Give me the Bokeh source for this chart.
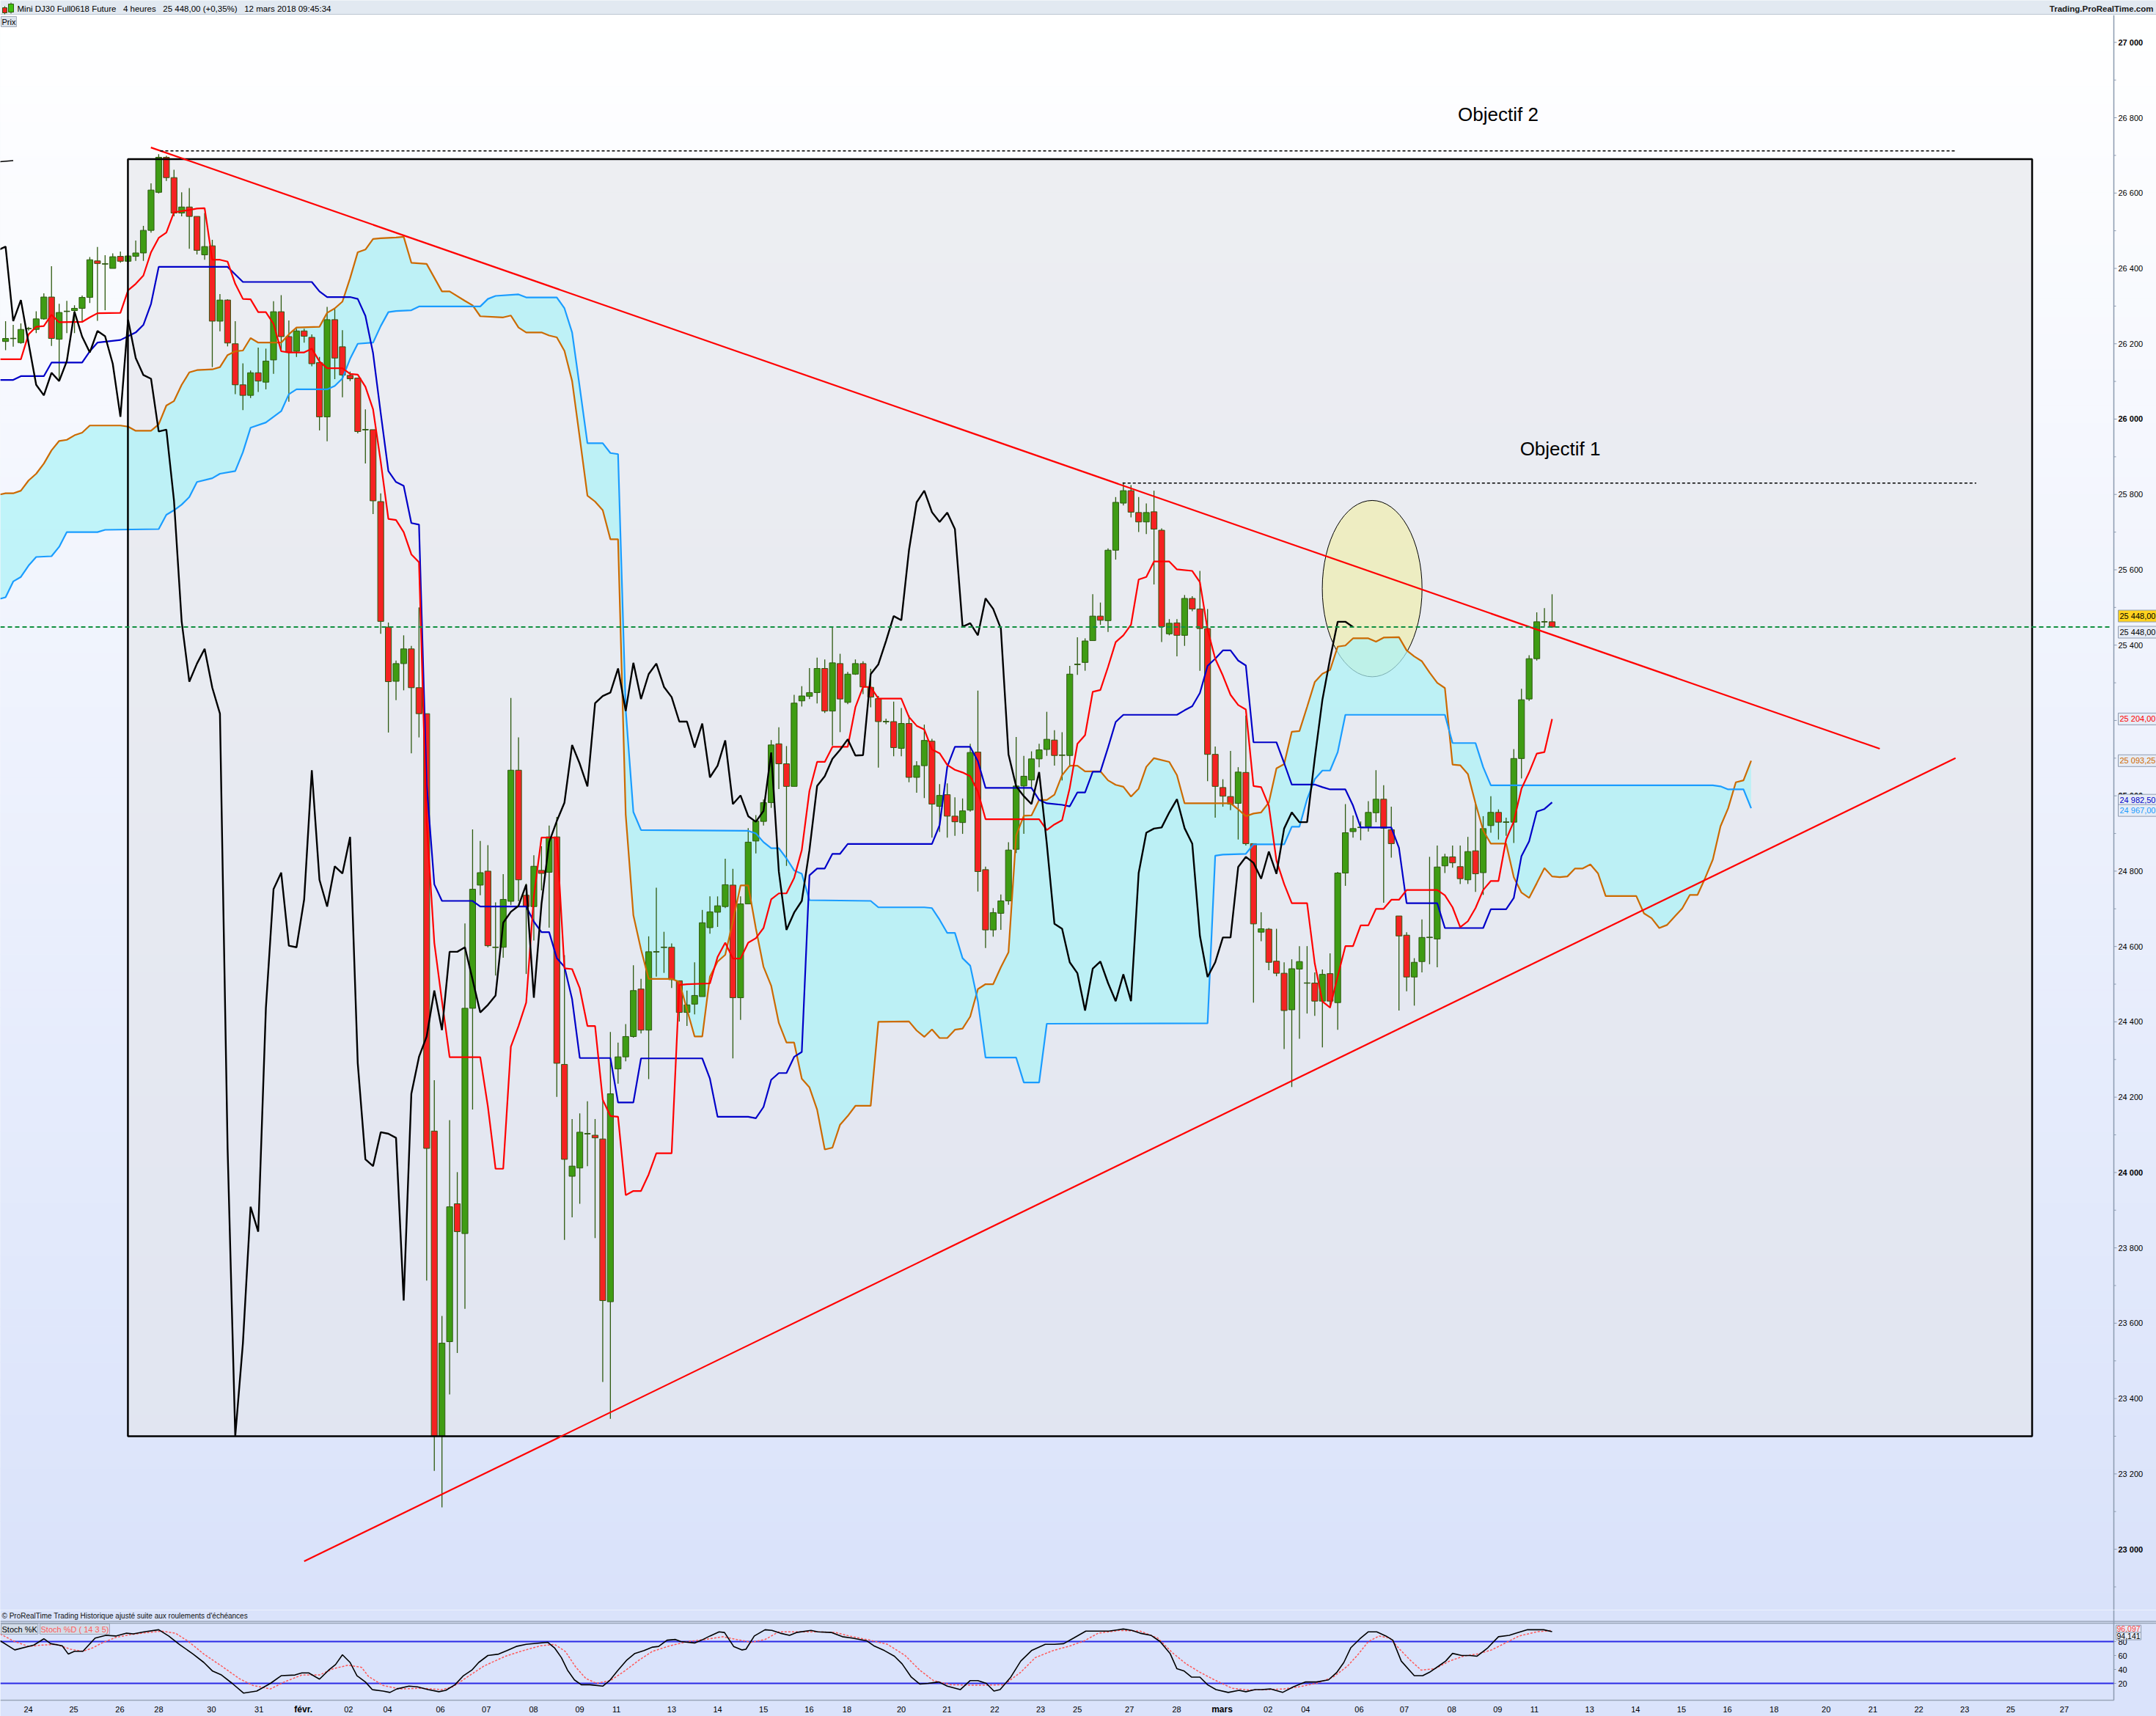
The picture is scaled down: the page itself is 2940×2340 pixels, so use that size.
import numpy as np
from bokeh.plotting import figure
from bokeh.models import Range1d, Label, ColumnDataSource
from bokeh.layouts import column
from bokeh.embed import file_html
from bokeh.resources import INLINE
from bokeh.core.properties import value

# ---------------------------------------------------------------- data
OPEN = [26206, 26214, 26203, 26240, 26238, 26266, 26324, 26212, 26286, 26288,
        26294, 26323, 26420, 26412, 26400, 26432, 26419, 26432, 26441, 26501,
        26602, 26695, 26641, 26547, 26563, 26538, 26436, 26460, 26260, 26316,
        26200, 26091, 26063, 26123, 26098, 26157, 26285, 26219, 26180, 26234,
        26217, 26150, 26006, 26264, 26192, 26116, 26109, 25972, 25972, 25781,
        25448, 25304, 25351, 25390, 25287, 25218, 24110, 23300, 23551, 23917,
        23838, 24436, 24763, 24800, 24598, 24598, 24720, 25068, 24736, 24706,
        24802, 24797, 24891, 24287, 23990, 24012, 24103, 24099, 24089, 23657,
        24275, 24307, 24361, 24487, 24378, 24586, 24598, 24598, 24509, 24425,
        24447, 24467, 24650, 24691, 24706, 24763, 24464, 24713, 24880, 24932,
        24982, 25138, 25085, 25025, 25252, 25264, 25274, 25338, 25225, 25351,
        25248, 25323, 25351, 25288, 25258, 25197, 25197, 25126, 25192, 25049,
        25080, 25145, 24972, 25003, 24946, 24929, 24962, 25116, 24804, 24644,
        24688, 24721, 24858, 25026, 25042, 25098, 25123, 25148, 25108, 25107,
        25349, 25354, 25412, 25477, 25465, 25652, 25777, 25810, 25752, 25727,
        25754, 25705, 25430, 25459, 25426, 25524, 25496, 25444, 25110, 25022,
        24998, 24980, 25062, 24873, 24638, 24646, 24561, 24529, 24432, 24540,
        24503, 24503, 24455, 24528, 24451, 24795, 24905, 24916, 24918, 24955,
        24991, 24910, 24681, 24630, 24519, 24560, 24624, 24620, 24814, 24838,
        24812, 24777, 24854, 24796, 24921, 24956, 24930, 24930, 25099, 25257,
        25364, 25462, 25462]
HIGH = [26260, 26250, 26254, 26245, 26286, 26334, 26406, 26306, 26314, 26302,
        26328, 26430, 26457, 26435, 26440, 26445, 26435, 26474, 26513, 26626,
        26703, 26699, 26662, 26602, 26613, 26538, 26547, 26476, 26332, 26318,
        26260, 26148, 26129, 26190, 26187, 26313, 26329, 26262, 26240, 26240,
        26225, 26165, 26298, 26292, 26236, 26126, 26109, 26026, 25972, 25803,
        25460, 25359, 25426, 25398, 25500, 25218, 24245, 23619, 24139, 24001,
        24661, 24911, 24880, 24869, 24717, 24792, 25260, 25155, 24767, 24842,
        24866, 24921, 24944, 24577, 24142, 24157, 24189, 24142, 24190, 24373,
        24345, 24394, 24550, 24514, 24627, 24756, 24639, 24608, 24509, 24483,
        24558, 24697, 24733, 24733, 24833, 24806, 24733, 24914, 24949, 24990,
        25148, 25182, 25132, 25268, 25291, 25339, 25367, 25362, 25447, 25377,
        25329, 25362, 25357, 25337, 25265, 25205, 25250, 25233, 25214, 25092,
        25189, 25151, 25031, 25033, 24996, 24993, 25138, 25279, 24812, 24702,
        24738, 24877, 25156, 25106, 25118, 25138, 25223, 25174, 25169, 25345,
        25421, 25418, 25535, 25513, 25657, 25793, 25832, 25825, 25793, 25776,
        25810, 25710, 25469, 25469, 25533, 25530, 25597, 25496, 25131, 25044,
        25119, 25076, 25213, 24873, 24691, 24649, 24647, 24558, 24566, 24601,
        24601, 24531, 24539, 24582, 24798, 24978, 24948, 24932, 24986, 25068,
        25028, 24971, 24681, 24638, 24569, 24672, 24838, 24868, 24846, 24868,
        24868, 24891, 24980, 24946, 24999, 24964, 24942, 25124, 25284, 25373,
        25487, 25498, 25535]
LOW = [26183, 26192, 26200, 26235, 26228, 26264, 26194, 26103, 26228, 26228,
       26257, 26308, 26261, 26289, 26400, 26415, 26415, 26420, 26420, 26495,
       26599, 26632, 26538, 26538, 26452, 26437, 26423, 26138, 26233, 26193,
       26066, 26024, 26056, 26072, 26079, 26120, 26182, 26046, 26165, 26203,
       26140, 25970, 25941, 26106, 26058, 26101, 25962, 25882, 25748, 25430,
       25168, 25254, 25280, 25113, 25155, 23713, 23208, 23111, 23411, 23521,
       23638, 24167, 24736, 24598, 24523, 24570, 24710, 24720, 24527, 24616,
       24749, 24650, 24201, 23821, 23881, 23917, 24017, 23826, 23444, 23346,
       24236, 24295, 24358, 24369, 24248, 24520, 24530, 24490, 24401, 24389,
       24420, 24467, 24634, 24652, 24702, 24303, 24405, 24713, 24847, 24921,
       24968, 25018, 24814, 25025, 25237, 25257, 25245, 25220, 25133, 25169,
       25243, 25321, 25270, 25235, 25075, 25190, 25105, 25105, 25036, 25008,
       24994, 24889, 24904, 24889, 24894, 24899, 24958, 24746, 24596, 24626,
       24644, 24711, 24848, 24899, 25021, 25076, 25106, 25080, 25041, 25077,
       25321, 25332, 25411, 25454, 25435, 25627, 25771, 25739, 25700, 25695,
       25561, 25408, 25426, 25370, 25398, 25490, 25332, 25039, 24942, 24971,
       24962, 24884, 24868, 24451, 24614, 24537, 24521, 24328, 24227, 24355,
       24422, 24416, 24332, 24437, 24379, 24761, 24889, 24882, 24905, 24930,
       24716, 24836, 24430, 24481, 24443, 24531, 24553, 24545, 24795, 24809,
       24766, 24766, 24745, 24737, 24902, 24884, 24894, 24875, 25046, 25252,
       25359, 25450, 25446]
CLOSE = [26214, 26214, 26238, 26240, 26266, 26324, 26214, 26283, 26286, 26294,
         26323, 26423, 26413, 26412, 26431, 26419, 26433, 26441, 26501, 26608,
         26695, 26641, 26547, 26563, 26538, 26448, 26458, 26260, 26316, 26202,
         26091, 26063, 26123, 26101, 26154, 26285, 26219, 26177, 26234, 26220,
         26147, 26006, 26264, 26162, 26117, 26107, 25967, 25972, 25783, 25463,
         25303, 25351, 25390, 25287, 25218, 24064, 23300, 23547, 23909, 23843,
         24436, 24752, 24796, 24602, 24598, 24725, 25068, 24777, 24706, 24813,
         24794, 24891, 24290, 24035, 24017, 24107, 24103, 24092, 23660, 24209,
         24307, 24361, 24483, 24378, 24586, 24586, 24598, 24512, 24425, 24445,
         24470, 24663, 24692, 24708, 24764, 24464, 24713, 24877, 24933, 24982,
         25135, 25085, 25025, 25246, 25265, 25274, 25338, 25225, 25353, 25257,
         25323, 25351, 25289, 25262, 25197, 25197, 25128, 25192, 25049, 25080,
         25147, 24978, 25001, 24946, 24931, 24960, 25115, 24799, 24644, 24690,
         24721, 24856, 25026, 25052, 25098, 25122, 25150, 25107, 25108, 25323,
         25349, 25411, 25477, 25466, 25652, 25779, 25810, 25753, 25727, 25752,
         25708, 25449, 25458, 25426, 25524, 25496, 25444, 25110, 25025, 24999,
         24978, 25063, 24873, 24660, 24647, 24558, 24529, 24430, 24541, 24560,
         24503, 24455, 24526, 24455, 24795, 24902, 24913, 24916, 24956, 24991,
         24914, 24873, 24628, 24519, 24558, 24624, 24624, 24811, 24838, 24822,
         24780, 24852, 24793, 24913, 24956, 24930, 24930, 25099, 25255, 25364,
         25462, 25462, 25448]

# Ichimoku lines: (bar, value)
TENKAN = [(-0.7, 26159), (2, 26159), (3, 26225), (4, 26245), (5, 26247), (6, 26277), (7, 26257), (10, 26258),
          (11, 26270), (12, 26281), (15, 26282), (16, 26342), (17, 26359), (18, 26381), (19, 26443), (20, 26481),
          (21, 26495), (22, 26549), (23, 26552), (24, 26555), (25, 26559), (26, 26560), (27, 26423), (28, 26423),
          (29, 26418), (30, 26359), (31, 26319), (32, 26318), (33, 26284), (34, 26284), (35, 26253), (36, 26180),
          (37, 26177), (39, 26177), (40, 26187), (41, 26153), (42, 26135), (44, 26135), (45, 26120), (46, 26118),
          (47, 26086), (48, 26026), (49, 25887), (50, 25735), (51, 25732), (52, 25700), (53, 25641), (54, 25620),
          (55, 24930), (56, 24610), (57, 24455), (58, 24306), (62, 24306), (63, 24175), (64, 24010), (65, 24010),
          (66, 24334), (67, 24389), (68, 24451), (69, 24733), (70, 24889), (72, 24889), (73, 24542), (74, 24540),
          (75, 24489), (76, 24389), (77, 24389), (78, 24193), (79, 24150), (80, 24148), (81, 23940), (82, 23951),
          (83, 23951), (84, 23995), (85, 24051), (87, 24051), (88, 24498), (89, 24500), (92, 24502), (93, 24572),
          (94, 24610), (95, 24568), (96, 24568), (97, 24610), (98, 24622), (99, 24649), (100, 24725), (101, 24741),
          (102, 24741), (103, 24782), (104, 24856), (105, 25013), (106, 25090), (107, 25090), (108, 25130),
          (110, 25130), (111, 25235), (112, 25289), (113, 25289), (114, 25258), (117, 25258), (118, 25209),
          (119, 25186), (120, 25176), (121, 25123), (122, 25113), (123, 25082), (124, 25069), (125, 25062),
          (126, 25052), (127, 25011), (128, 24938), (135, 24938), (136, 24909), (137, 24924), (138, 24935),
          (139, 25021), (140, 25138), (141, 25161), (142, 25276), (143, 25281), (144, 25342), (145, 25408),
          (146, 25426), (147, 25454), (148, 25574), (149, 25581), (150, 25622), (152, 25622), (153, 25601),
          (155, 25597), (156, 25567), (157, 25441), (158, 25364), (159, 25319), (160, 25268), (161, 25241),
          (162, 25229), (163, 25026), (164, 25023), (165, 24974), (166, 24828), (167, 24766), (168, 24715),
          (170, 24715), (171, 24555), (172, 24454), (173, 24438), (174, 24521), (175, 24601), (176, 24601),
          (177, 24656), (178, 24656), (179, 24700), (180, 24700), (181, 24724), (182, 24724), (183, 24750),
          (187, 24750), (188, 24736), (189, 24704), (190, 24651), (191, 24667), (192, 24702), (193, 24750),
          (194, 24774), (195, 24774), (196, 24884), (197, 24932), (198, 25019), (199, 25062), (200, 25112),
          (201, 25116), (202, 25204)]
KIJUN = [(-0.7, 26104), (1, 26104), (2, 26114), (5, 26114), (6, 26150), (10, 26150), (11, 26180), (12, 26203),
         (15, 26210), (16, 26220), (17, 26230), (18, 26250), (19, 26306), (20, 26404), (29, 26404), (30, 26384),
         (31, 26364), (40, 26364), (41, 26339), (42, 26324), (45, 26324), (46, 26319), (47, 26274), (48, 26175),
         (49, 26016), (50, 25862), (51, 25833), (52, 25823), (53, 25724), (54, 25720), (55, 25030), (56, 24765),
         (57, 24721), (61, 24721), (62, 24706), (68, 24706), (69, 24666), (70, 24638), (71, 24638), (72, 24569),
         (73, 24546), (74, 24460), (75, 24304), (79, 24304), (80, 24186), (82, 24186), (83, 24303), (91, 24303),
         (92, 24249), (93, 24148), (97, 24148), (98, 24144), (99, 24174), (100, 24246), (101, 24264), (102, 24264),
         (103, 24307), (104, 24320), (105, 24789), (106, 24807), (107, 24807), (108, 24846), (109, 24846),
         (110, 24872), (121, 24872), (122, 24922), (123, 25077), (124, 25130), (126, 25130), (127, 25092),
         (128, 25021), (134, 25021), (135, 24989), (136, 24980), (138, 24976), (139, 24972), (140, 25009),
         (141, 25009), (142, 25064), (143, 25064), (144, 25128), (145, 25196), (146, 25215), (153, 25215),
         (154, 25227), (155, 25238), (156, 25273), (157, 25345), (158, 25364), (159, 25386), (160, 25386),
         (161, 25359), (162, 25346), (163, 25142), (166, 25142), (167, 25087), (168, 25030), (171, 25030),
         (172, 25023), (173, 25017), (175, 25017), (176, 24974), (177, 24916), (181, 24916), (182, 24862),
         (183, 24715), (187, 24715), (188, 24649), (193, 24649), (194, 24699), (196, 24699), (197, 24729),
         (198, 24840), (199, 24879), (200, 24958), (201, 24965), (202, 24982.5)]
SENKOU_A = [(-0.7, 25800), (0, 25803), (1, 25803), (2, 25810), (3, 25837), (4, 25855), (5, 25882), (6, 25917),
            (7, 25942), (8, 25945), (9, 25957), (10, 25964), (11, 25983), (15, 25983), (16, 25980), (17, 25969),
            (19, 25969), (20, 25986), (21, 26036), (22, 26048), (23, 26091), (24, 26124), (25, 26130), (27, 26132),
            (28, 26138), (29, 26170), (30, 26180), (31, 26182), (32, 26215), (33, 26203), (36, 26203), (37, 26225),
            (38, 26243), (41, 26245), (42, 26282), (43, 26294), (44, 26312), (45, 26374), (46, 26443), (47, 26450),
            (48, 26478), (49, 26480), (51, 26482), (52, 26484), (53, 26415), (55, 26412), (57, 26339), (58, 26339),
            (60, 26314), (61, 26302), (62, 26273), (65, 26270), (66, 26275), (67, 26243), (68, 26230), (70, 26230),
            (71, 26222), (72, 26217), (73, 26181), (74, 26101), (75, 25950), (76, 25797), (77, 25781), (78, 25758),
            (79, 25681), (80, 25681), (81, 24950), (82, 24683), (83, 24592), (84, 24514), (87, 24514), (88, 24506),
            (89, 24433), (90, 24361), (91, 24361), (92, 24520), (93, 24560), (94, 24578), (95, 24667), (96, 24762),
            (97, 24762), (98, 24648), (99, 24546), (100, 24496), (101, 24397), (102, 24345), (103, 24345),
            (104, 24249), (105, 24226), (106, 24167), (107, 24061), (108, 24066), (109, 24127), (110, 24150),
            (111, 24177), (113, 24177), (114, 24400), (118, 24401), (119, 24377), (120, 24360), (121, 24380),
            (122, 24357), (123, 24357), (124, 24379), (125, 24382), (126, 24414), (127, 24487), (128, 24500),
            (129, 24500), (130, 24545), (131, 24585), (132, 24895), (133, 24947), (134, 24948), (135, 24989),
            (136, 24989), (137, 25003), (138, 25055), (139, 25080), (140, 25080), (141, 25065), (143, 25065),
            (144, 25041), (145, 25029), (146, 25024), (147, 24998), (148, 25019), (149, 25077), (150, 25100),
            (152, 25090), (153, 25055), (154, 24980), (160, 24980), (161, 24964), (162, 24946), (163, 24953),
            (164, 24956), (165, 24982), (166, 25073), (167, 25084), (168, 25170), (169, 25172), (170, 25236),
            (171, 25302), (172, 25324), (173, 25334), (174, 25396), (175, 25399), (176, 25418), (178, 25418),
            (179, 25409), (180, 25420), (182, 25421), (183, 25386), (184, 25370), (185, 25357), (186, 25327),
            (187, 25300), (188, 25286), (189, 25083), (190, 25081), (191, 25058), (192, 24980), (193, 24908),
            (194, 24873), (196, 24873), (197, 24784), (198, 24743), (199, 24729), (200, 24768), (201, 24808),
            (202, 24786), (203, 24784), (204, 24786), (205, 24807), (206, 24807), (207, 24818), (208, 24794),
            (209, 24734), (213, 24734), (214, 24688), (215, 24675), (216, 24649), (217, 24657), (218, 24679),
            (219, 24701), (220, 24737), (221, 24737), (222, 24782), (223, 24831), (224, 24919), (225, 24967),
            (226, 25036), (227, 25041), (228, 25093.25)]
SENKOU_B = [(-0.7, 25523), (0, 25527), (1, 25569), (2, 25581), (3, 25611), (4, 25634), (6, 25636), (7, 25661),
            (8, 25700), (12, 25700), (13, 25706), (20, 25708), (21, 25746), (22, 25758), (23, 25773), (24, 25793),
            (25, 25833), (27, 25843), (28, 25855), (30, 25862), (31, 25912), (32, 25977), (34, 25991), (35, 26006),
            (36, 26021), (37, 26066), (38, 26079), (42, 26079), (43, 26088), (44, 26108), (45, 26160), (46, 26200),
            (48, 26203), (49, 26247), (50, 26284), (51, 26287), (53, 26289), (54, 26299), (62, 26299), (63, 26319),
            (64, 26327), (67, 26331), (68, 26323), (72, 26323), (73, 26294), (74, 26230), (75, 26084), (76, 25936),
            (78, 25936), (79, 25910), (80, 25907), (81, 25229), (82, 24957), (83, 24909), (97, 24907), (98, 24900),
            (99, 24877), (100, 24861), (101, 24861), (102, 24834), (103, 24802), (104, 24793), (105, 24723),
            (113, 24721), (114, 24704), (120, 24704), (121, 24702), (122, 24671), (123, 24636), (124, 24636),
            (125, 24569), (126, 24549), (127, 24454), (128, 24305), (132, 24305), (133, 24239), (135, 24239),
            (136, 24395), (157, 24396), (158, 24841), (159, 24844), (162, 24846), (163, 24871), (167, 24871),
            (168, 24918), (169, 24918), (170, 24991), (171, 25044), (172, 25067), (173, 25067), (174, 25116),
            (175, 25215), (188, 25215), (189, 25140), (192, 25140), (193, 25076), (194, 25028), (223, 25028),
            (224, 25025), (225, 25017), (227, 25017), (228, 24967)]
CHIKOU_SHIFT = 26

# Stochastic (14 3 5): (bar, value)
STOCH_K = [(-0.7, 81), (1.2, 68), (3.7, 75), (5.0, 84), (5.9, 77), (7.4, 74), (8.2, 62), (9.0, 66), (10.1, 66),
           (11.7, 85), (13.1, 89), (14.4, 88), (15.8, 92), (16.7, 91), (18.1, 94), (20.0, 97), (21.3, 88),
           (22.7, 76), (24.5, 62), (25.9, 50), (27.0, 38), (28.2, 32), (29.6, 20), (31.1, 6), (32.8, 9),
           (34.6, 20), (36.0, 31), (37.8, 32), (38.7, 35), (39.6, 35), (41.0, 26), (42.2, 39), (43.1, 47),
           (44.0, 61), (45.0, 50), (45.9, 31), (47.0, 22), (47.9, 11), (49.3, 9), (50.2, 7), (51.1, 12),
           (52.7, 16), (53.8, 15), (55.2, 11), (56.6, 8), (57.5, 10), (58.7, 18), (59.8, 31), (60.9, 39),
           (61.8, 50), (63.0, 60), (64.4, 62), (65.5, 67), (66.7, 73), (68.0, 76), (70.8, 79), (71.7, 71),
           (72.6, 57), (73.4, 39), (74.3, 25), (75.2, 18), (76.3, 18), (78.0, 16), (78.9, 24), (80.0, 39),
           (81.1, 53), (82.2, 63), (83.4, 67), (84.5, 72), (85.3, 73), (86.4, 82), (87.5, 83), (88.2, 80),
           (90.0, 78), (90.9, 82), (92.0, 88), (93.2, 94), (93.9, 93), (95.1, 73), (96.2, 68), (96.7, 69),
           (97.8, 88), (99.2, 97), (100.1, 96), (101.2, 92), (102.4, 89), (103.3, 93), (105.2, 96), (106.1, 94),
           (107.9, 93), (109.3, 87), (110.6, 85), (112.5, 81), (113.4, 74), (114.8, 67), (116.1, 59), (117.1, 48),
           (118.3, 29), (119.4, 19), (120.5, 20), (121.9, 22), (123.0, 16), (124.7, 11), (126.0, 24), (127.0, 24),
           (128.1, 20), (129.1, 9), (129.9, 11), (131.3, 29), (132.6, 52), (134.0, 67), (135.8, 76), (137.0, 76),
           (138.2, 77), (139.5, 85), (141.1, 95), (144.1, 95), (146.0, 98), (147.1, 96), (148.2, 92), (149.6, 89),
           (150.8, 80), (152.1, 63), (153.0, 41), (153.9, 38), (154.9, 29), (156.0, 29), (157.0, 18), (158.1, 11),
           (159.7, 7), (161.1, 10), (162.0, 8), (163.2, 11), (164.1, 11), (165.2, 12), (166.8, 7), (168.2, 15),
           (169.8, 22), (171.2, 22), (172.8, 25), (173.9, 36), (174.8, 50), (175.7, 71), (176.9, 84), (178.0, 94),
           (179.1, 94), (180.3, 88), (181.2, 82), (182.3, 52), (184.0, 31), (185.1, 31), (186.0, 36), (187.2, 45),
           (188.1, 52), (189.0, 63), (190.2, 60), (191.3, 60), (192.2, 59), (193.6, 71), (195.0, 87), (196.4, 89),
           (197.3, 92), (198.8, 97), (200.9, 97), (202.0, 94.141)]
STOCH_D = [(-0.7, 91), (1.0, 81), (3.0, 73), (4.8, 75), (6.6, 76), (8.5, 69), (10.1, 66), (11.4, 71), (12.6, 78),
           (14.4, 86), (16.3, 90), (18.6, 93), (20.4, 95), (22.2, 92), (23.9, 80), (25.9, 62), (28.2, 45),
           (30.5, 27), (32.3, 17), (34.6, 12), (36.4, 22), (38.7, 32), (41.0, 32), (42.8, 41), (44.7, 46),
           (46.5, 43), (47.4, 30), (49.3, 17), (51.5, 12), (54.3, 13), (57.0, 11), (58.4, 15), (60.3, 29),
           (62.5, 45), (65.3, 59), (67.6, 67), (69.9, 74), (71.7, 76), (73.1, 66), (74.5, 43), (75.8, 27),
           (77.2, 20), (79.0, 24), (80.9, 38), (82.7, 53), (84.5, 66), (86.8, 74), (89.1, 80), (91.4, 83),
           (93.7, 87), (95.5, 83), (97.4, 79), (99.2, 83), (101.0, 94), (103.3, 94), (106.1, 94), (108.4, 93),
           (110.6, 87), (112.9, 82), (115.2, 76), (117.5, 60), (119.4, 39), (121.2, 24), (123.5, 18), (125.8, 17.5),
           (128.5, 17.5), (130.4, 18), (132.6, 36), (134.5, 57), (136.8, 67), (139.1, 74), (140.9, 81), (142.7, 92),
           (145.5, 96), (148.2, 95), (150.5, 85), (152.4, 64), (154.2, 48), (156.0, 36), (157.9, 25), (160.2, 13),
           (162.4, 10.5), (164.7, 11), (167.0, 12), (168.9, 15), (171.2, 20), (173.4, 29), (175.3, 45), (176.7, 62),
           (178.0, 80), (179.4, 88), (180.8, 85), (182.1, 69), (183.5, 53), (184.9, 39), (186.7, 41), (188.6, 52),
           (190.4, 59), (192.2, 62), (194.1, 68), (195.9, 78), (197.7, 88), (200.0, 94), (201.4, 95.4),
           (202.0, 96.097)]
STOCH_LEVELS = [20, 80]
STOCH_TICKS = [20, 40, 60, 80]

# drawings made on the chart
BOX_X = [15.98, 264.7]
BOX_Y = [23300, 26690]
TREND_UP_X, TREND_UP_Y = [18.98, 244.8], [26721, 25125]
TREND_DN_X, TREND_DN_Y = [39.0, 254.7], [22968, 25100]
OBJ2_X, OBJ2_Y = [20.2, 254.7], [26712, 26712]
OBJ1_X, OBJ1_Y = [145.9, 257.4], [25830, 25830]
OLD_LINE_X, OLD_LINE_Y = [-3.0, 1.0], [26680, 26686]
ELL_X, ELL_Y, ELL_W, ELL_H = [178.5], [25550], [13.03], [468]
OBJ_TEXT = ["Objectif 2", "Objectif 1"]
OBJ_TEXT_X = [189.7, 197.8]
OBJ_TEXT_Y = [26808, 25922]
LAST_PRICE = 25448.0

# time axis (bar positions of the day labels)
XT = [2.96, 8.9, 14.93, 20.0, 26.9, 33.1, 38.9, 44.8, 49.9, 56.8, 62.8, 68.96, 75.0, 79.8, 87.0,
      93.0, 99.0, 104.96, 109.9, 117.0, 122.97, 129.2, 135.2, 140.0, 146.8, 152.96, 158.9, 164.9, 169.8,
      176.8, 182.7, 188.9, 194.9, 199.7, 206.9, 212.9, 218.9, 224.9, 231.0, 237.8, 243.9, 249.9, 255.9,
      261.9, 268.9]
XL = ["24", "25", "26", "28", "30", "31", "févr.", "02", "04", "06", "07", "08", "09", "11", "13",
      "14", "15", "16", "18", "20", "21", "22", "23", "25", "27", "28", "mars", "02", "04", "06",
      "07", "08", "09", "11", "13", "14", "15", "16", "18", "20", "21", "22", "23", "25", "27"]
MONTHS = ["févr.", "mars"]

PRICE_TICKS = list(range(23000, 27001, 200))
PRICE_MINOR = list(range(22900, 27101, 200))
TAG_VALUES = [25448.0, 25448.0, 25204.0, 25093.25, 24982.5, 24967.0]
STOCH_TAGS = [96.097, 94.141]

TITLE = "Mini DJ30 Full0618 Future\u00a0\u00a0\u00a04 heures\u00a0\u00a0\u00a025 448,00 (+0,35%)\u00a0\u00a0\u00a012 mars 2018 09:45:34"
SITE = "Trading.ProRealTime.com"
FOOTER = "© ProRealTime Trading Historique ajusté suite aux roulements d'échéances"

# ---------------------------------------------------------------- geometry / style
FONT = "Liberation Sans"
W = 2940
H_HEAD, H_MAIN, H_STOCH = 20, 2175, 145
PXB = 10.44                       # pixels per bar
BAR0_PAGE = 7.1                   # page x of bar 0
X_LO = (0 - BAR0_PAGE) / PXB
X_FULL = X_LO + W / PXB
X_HI = (2882 - BAR0_PAGE) / PXB   # price axis line
Y_LO, Y_HI = 22838.6, 27072.6
S_PX = 0.95                       # stochastic pixels per unit
S_TOP = 20 + (2295 - 2195) / S_PX
S_BOT = 20 - (2340 - 2295) / S_PX
P_BOT, P_TOP = -4.2, 106.3
WICK = "#2E5A10"
AXIS_C = "#8C9BB0"
HAS_PAD = "padding" in Label.properties()


def hexmix(a, b, t):
    ca = [int(a[i:i + 2], 16) for i in (1, 3, 5)]
    cb = [int(b[i:i + 2], 16) for i in (1, 3, 5)]
    return "#%02x%02x%02x" % tuple(int(round(ca[k] + (cb[k] - ca[k]) * t)) for k in range(3))


def thou(v):
    v = int(v)
    return f"{v // 1000} {v % 1000:03d}"


def fr2(v):
    return f"{v:,.2f}".replace(",", " ").replace(".", ",")


def fr3(v):
    return f"{v:.3f}".replace(".", ",")


def mk_label(**kw):
    pad = kw.pop("pad", None)
    lab = Label(**kw)
    if pad is not None and HAS_PAD:
        lab.padding = pad
    return lab


def unzip(pairs):
    return [p[0] for p in pairs], [p[1] for p in pairs]


def bare(fig):
    fig.grid.visible = False
    fig.outline_line_color = None
    return fig


# ---------------------------------------------------------------- header strip
head = bare(figure(width=W, height=H_HEAD, x_range=Range1d(0, W), y_range=Range1d(0, H_HEAD),
                   toolbar_location=None, output_backend="svg", min_border=0,
                   x_axis_location=None, y_axis_location=None))
head.background_fill_color = "#E2E9F1"
head.border_fill_color = "#E2E9F1"
head.line([0, W], [0.5, 0.5], line_color="#97A2B3", line_width=1)
head.segment(x0=[6, 14.5], y0=[1, 2], x1=[6, 14.5], y1=[12, 17], line_color=WICK, line_width=1)
head.quad(left=[3, 11], right=[9, 18], bottom=[3, 4], top=[10, 15],
          fill_color=["#F02020", "#40C010"], line_color=WICK, line_width=1)
head.text(x=[23], y=[9], text=[TITLE], text_font=value(FONT), text_font_size="11.5px",
          text_baseline="middle", text_color="black")
head.text(x=[W - 4], y=[9], text=[SITE], text_font=value(FONT), text_font_size="11.5px",
          text_font_style="bold", text_align="right", text_baseline="middle", text_color="#1A1A1A")

# ---------------------------------------------------------------- main price panel
main = bare(figure(width=W, height=H_MAIN, x_range=Range1d(X_LO, X_FULL), y_range=Range1d(Y_LO, Y_HI),
                   toolbar_location=None, output_backend="svg", x_axis_location=None,
                   y_axis_location=None, min_border=0))
main.background_fill_color = "#EDF2FC"
main.border_fill_color = "#EDF2FC"

NB = 90
edges = np.linspace(Y_LO, Y_HI, NB + 1)
bcols = [hexmix("#D9E2FA", "#FFFFFF", (k + 0.5) / NB) for k in range(NB)]
main.quad(left=X_LO, right=X_FULL, bottom=edges[:-1], top=edges[1:], fill_color=bcols, line_color=bcols,
          line_width=1)

main.quad(left=[BOX_X[0]], right=[BOX_X[1]], bottom=[BOX_Y[0]], top=[BOX_Y[1]],
          fill_color="#E4E5EA", fill_alpha=0.62, line_color=None)
main.ellipse(x=ELL_X, y=ELL_Y, width=ELL_W, height=ELL_H, fill_color="#F0EE9A", fill_alpha=0.55,
             line_color="black", line_width=1)

sax, say = unzip(SENKOU_A)
sbx, sby = unzip(SENKOU_B)
main.patch(sax + sbx[::-1], say + sby[::-1], fill_color="#ACF2F7", fill_alpha=0.72, line_color=None)

idx = list(range(len(CLOSE)))
up = [c >= o for o, c in zip(OPEN, CLOSE)]
src = ColumnDataSource(dict(
    x=idx, o=OPEN, h=HIGH, l=LOW, c=CLOSE,
    top=[max(o, c) for o, c in zip(OPEN, CLOSE)],
    bot=[min(o, c) for o, c in zip(OPEN, CLOSE)],
    col=["#3F9C14" if u else "#F52222" for u in up],
))
main.segment(x0="x", y0="l", x1="x", y1="h", source=src, line_color=WICK, line_width=1.3)
main.vbar(x="x", width=0.78, top="top", bottom="bot", fill_color="col", line_color=WICK,
          line_width=1, source=src)
doji = [i for i in idx if OPEN[i] == CLOSE[i]]
main.segment(x0=[i - 0.39 for i in doji], x1=[i + 0.39 for i in doji], y0=[CLOSE[i] for i in doji],
             y1=[CLOSE[i] for i in doji], line_color=WICK, line_width=1.5)

main.line(sax, say, line_color="#CC6A00", line_width=2.2)
main.line(sbx, sby, line_color="#1A9CFF", line_width=2.2)
kx, ky = unzip(KIJUN)
main.line(kx, ky, line_color="#0000C8", line_width=2.2)
tx, ty = unzip(TENKAN)
main.line(tx, ty, line_color="#FF0000", line_width=2.2)
main.line([i - CHIKOU_SHIFT for i in idx], CLOSE, line_color="#000000", line_width=2.4)

main.quad(left=[BOX_X[0]], right=[BOX_X[1]], bottom=[BOX_Y[0]], top=[BOX_Y[1]],
          fill_color=None, line_color="black", line_width=2.5)
main.line(TREND_UP_X, TREND_UP_Y, line_color="#FF0000", line_width=2.2)
main.line(TREND_DN_X, TREND_DN_Y, line_color="#FF0000", line_width=2.2)
main.line(OBJ2_X, OBJ2_Y, line_color="black", line_width=1.5, line_dash="4 3")
main.line(OBJ1_X, OBJ1_Y, line_color="black", line_width=1.5, line_dash="4 3")
main.line(OLD_LINE_X, OLD_LINE_Y, line_color="black", line_width=1.5)
main.line([X_LO, X_HI - 0.3], [LAST_PRICE, LAST_PRICE], line_color="#109040", line_width=2, line_dash="6 4")
main.text(x=OBJ_TEXT_X, y=OBJ_TEXT_Y, text=OBJ_TEXT, text_font=value(FONT), text_font_size="26px",
          text_baseline="middle", text_color="black")

# price axis drawn at the right edge of the panel
main.line([X_HI, X_HI], [Y_LO, Y_HI], line_color=AXIS_C, line_width=1.5)
main.segment(x0=[X_HI] * len(PRICE_TICKS), x1=[X_HI + 4 / PXB] * len(PRICE_TICKS), y0=PRICE_TICKS,
             y1=PRICE_TICKS, line_color=AXIS_C, line_width=1)
main.segment(x0=[X_HI] * len(PRICE_MINOR), x1=[X_HI + 3 / PXB] * len(PRICE_MINOR), y0=PRICE_MINOR,
             y1=PRICE_MINOR, line_color=AXIS_C, line_width=1)
reg = [v for v in PRICE_TICKS if v % 1000]
bold = [v for v in PRICE_TICKS if v % 1000 == 0]
main.text(x=[X_HI] * len(reg), y=reg, text=[thou(v) for v in reg], x_offset=6, text_font=value(FONT),
          text_font_size="11px", text_baseline="middle", text_color="black")
main.text(x=[X_HI] * len(bold), y=bold, text=[thou(v) for v in bold], x_offset=6, text_font=value(FONT),
          text_font_size="11px", text_font_style="bold", text_baseline="middle", text_color="black")

tag_fill = ["#FFD21F", "#E6ECF6", "#E6ECF6", "#E6ECF6", "#E6ECF6", "#E6ECF6"]
tag_text = ["#000000", "#000000", "#FF0000", "#D06A00", "#0000C8", "#1A9CFF"]
tag_off = [15, -7, 0, 0, 3, -3]
for v, fc, tc, off in zip(TAG_VALUES, tag_fill, tag_text, tag_off):
    main.add_layout(mk_label(x=2888, y=v, x_units="screen", y_units="data", y_offset=off,
                             text=fr2(v), text_font=FONT, text_font_size="11px",
                             text_baseline="middle", text_color=tc, background_fill_color=fc,
                             border_line_color="#8E9BB0", border_line_width=1, pad=2))

main.add_layout(mk_label(x=1, y=Y_HI, x_units="screen", y_units="data", y_offset=-2, text="Prix",
                         text_font=FONT, text_font_size="11px", text_baseline="top", text_color="black",
                         background_fill_color="#DCE3EC", border_line_color="#A3ADBB", pad=1))

# ---------------------------------------------------------------- stochastic panel
stoch = bare(figure(width=W, height=H_STOCH, x_range=Range1d(X_LO, X_FULL), y_range=Range1d(S_BOT, S_TOP),
                    toolbar_location=None, output_backend="svg", x_axis_location=None,
                    y_axis_location=None, min_border=0))
stoch.background_fill_color = "#DAE3FB"
stoch.border_fill_color = "#DAE3FB"
stoch.line([X_LO, X_FULL], [P_TOP + 2.6 / S_PX, P_TOP + 2.6 / S_PX], line_color="#9AA6B8", line_width=1.5)
stoch.line([X_LO, X_FULL], [P_TOP, P_TOP], line_color="#9AA6B8", line_width=1.5)
stoch.line([X_LO, X_HI], [P_BOT, P_BOT], line_color="#9AA6B8", line_width=1.5)
stoch.line([X_HI, X_HI], [P_BOT, S_TOP], line_color=AXIS_C, line_width=1.5)
for lv in STOCH_LEVELS:
    stoch.line([X_LO, X_HI], [lv, lv], line_color="#2A2AE6", line_width=2)
dx, dy = unzip(STOCH_D)
stoch.line(dx, dy, line_color="#FF5A5A", line_width=1.5, line_dash="3 2")
kx2, ky2 = unzip(STOCH_K)
stoch.line(kx2, ky2, line_color="black", line_width=1.6)

stoch.segment(x0=[X_HI] * 4, x1=[X_HI + 3 / PXB] * 4, y0=STOCH_TICKS, y1=STOCH_TICKS, line_color=AXIS_C)
stoch.text(x=[X_HI] * 4, y=STOCH_TICKS, text=[str(t) for t in STOCH_TICKS], x_offset=6,
           text_font=value(FONT), text_font_size="11px", text_baseline="middle", text_color="black")
for v, tc, off in zip(STOCH_TAGS, ["#FF4040", "#000000"], [2, -6]):
    stoch.add_layout(mk_label(x=2885, y=v, x_units="screen", y_units="data", y_offset=off,
                              text=fr3(v), text_font=FONT, text_font_size="10.5px", text_baseline="middle",
                              text_color=tc, background_fill_color="#E6ECF6",
                              border_line_color="#8E9BB0", pad=1))

XLAB_Y = 20 - (2330 - 2295) / S_PX
reg_t = [(t, s) for t, s in zip(XT, XL) if s not in MONTHS]
mon_t = [(t, s) for t, s in zip(XT, XL) if s in MONTHS]
stoch.text(x=[t for t, _ in reg_t], y=[XLAB_Y] * len(reg_t), text=[s for _, s in reg_t],
           text_font=value(FONT), text_font_size="11px", text_align="center", text_baseline="middle",
           text_color="black")
stoch.text(x=[t for t, _ in mon_t], y=[XLAB_Y] * len(mon_t), text=[s for _, s in mon_t],
           text_font=value(FONT), text_font_size="12px", text_font_style="bold", text_align="center",
           text_baseline="middle", text_color="black")

stoch.text(x=[X_LO], y=[20 + (2295 - 2203) / S_PX], text=[FOOTER], x_offset=2, text_font=value(FONT),
           text_font_size="10px", text_baseline="middle", text_color="#111111")
stoch.add_layout(mk_label(x=1, y=P_TOP, x_units="screen", y_units="data", y_offset=-1, text="Stoch %K",
                          text_font=FONT, text_font_size="11px", text_baseline="top", text_color="black",
                          background_fill_color="#D3DCE8", border_line_color="#9AA6B8", pad=1))
stoch.add_layout(mk_label(x=54, y=P_TOP, x_units="screen", y_units="data", y_offset=-1,
                          text="Stoch %D ( 14 3 5)", text_font=FONT, text_font_size="11px",
                          text_baseline="top", text_color="#FF5A5A", background_fill_color="#D3DCE8",
                          border_line_color="#9AA6B8", pad=1))

layout = column(head, main, stoch, spacing=0)
open("out.html", "w").write(file_html(layout, INLINE))
